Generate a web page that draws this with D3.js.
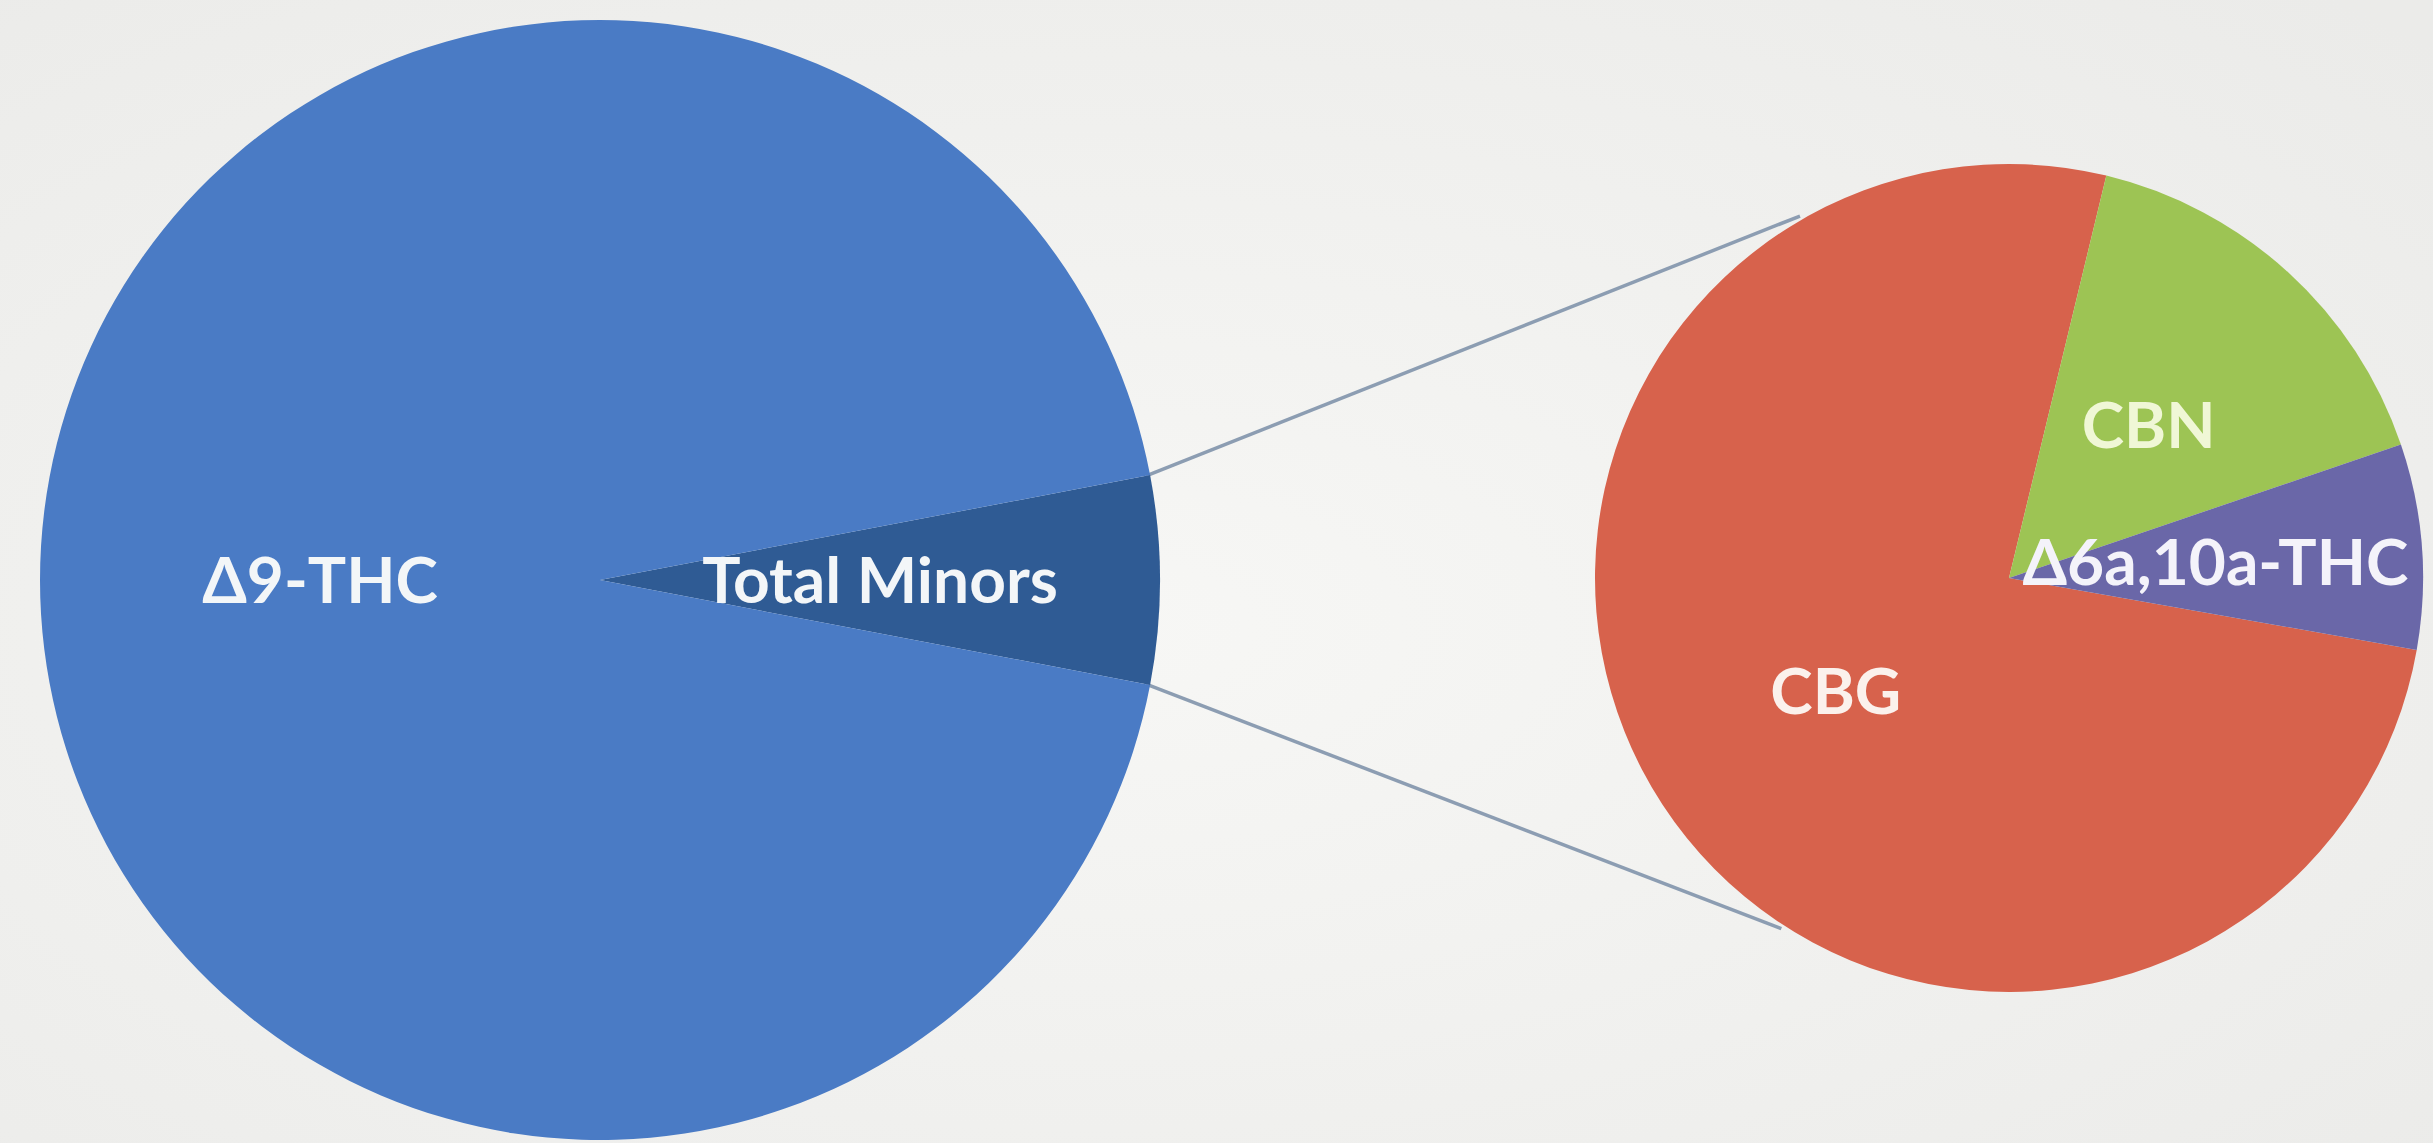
<!DOCTYPE html>
<html lang="en">
<head>
    <meta charset="UTF-8">
    <title>Pie of pie - cannabinoids</title>
    <script src="https://d3js.org/d3.v7.min.js"></script>
    <style>
        html, body { margin: 0; padding: 0; background: #f3f3f1; }
        svg { display: block; }
    </style>
</head>
<body>
<div id="chart"></div>
<script>

const width = 2433;
const height = 1143;

// main pie
const mainLabels = ["Total Minors", "Δ9-THC"];
const mainValues = [6, 94];
const mainColors = ["#2f5b94", "#4a7bc5"];

// secondary pie (breakdown of the minors)
const minorLabels = ["CBG", "CBN", "Δ6a,10a-THC"];
const minorValues = [76, 16, 8];
const minorColors = ["#d7624c", "#9dc454", "#6a67a8"];
const minorTextColors = ["#fbf1ec", "#f0f7d6", "#f4f3fa"];

const deg = Math.PI / 180;

const svg = d3.select("#chart").append("svg")
    .attr("width", width)
    .attr("height", height);

// soft paper background
const defs = svg.append("defs");
const bg = defs.append("radialGradient").attr("id", "paper")
    .attr("cx", "45%").attr("cy", "55%").attr("r", "75%");
bg.append("stop").attr("offset", "0%").attr("stop-color", "#f7f7f5");
bg.append("stop").attr("offset", "100%").attr("stop-color", "#ebebe9");
svg.append("rect").attr("width", width).attr("height", height).attr("fill", "url(#paper)");

const R = 560, mainC = [600, 580];
const r = 414, minorC = [2009, 578];

const mainPie = d3.pie().value(d => d).sort(null)
    .startAngle(90 * deg - (mainValues[0] / 100) * Math.PI)
    .endAngle(90 * deg - (mainValues[0] / 100) * Math.PI + 2 * Math.PI);
const minorPie = d3.pie().value(d => d).sort(null)
    .startAngle(100 * deg)
    .endAngle(100 * deg + 2 * Math.PI);

const mainArcs = mainPie(mainValues);
const minorArcs = minorPie(minorValues);

// connector lines, from the minors wedge edges to the second pie
const pt = (c, rad, a) => [c[0] + rad * Math.sin(a), c[1] - rad * Math.cos(a)];
const wedge = mainArcs[0];
const links = [
    [pt(mainC, R - 4, wedge.startAngle), pt(minorC, r + 4, -30 * deg)],
    [pt(mainC, R - 4, wedge.endAngle), pt(minorC, r + 4, -147 * deg)]
];
svg.selectAll("line.link")
    .data(links)
    .enter().append("line")
    .attr("class", "link")
    .attr("x1", d => d[0][0]).attr("y1", d => d[0][1])
    .attr("x2", d => d[1][0]).attr("y2", d => d[1][1])
    .attr("stroke", "#8c9db2")
    .attr("stroke-width", 3.5);

function drawPie(arcs, center, radius, labels, colors, textColors, labelK) {
    const g = svg.append("g")
        .attr("transform", "translate(" + center[0] + "," + center[1] + ")");
    const arc = d3.arc().innerRadius(0).outerRadius(radius);
    const labelArc = d3.arc().innerRadius(radius * labelK).outerRadius(radius * labelK);

    g.selectAll("path")
        .data(arcs)
        .enter().append("path")
        .attr("d", arc)
        .attr("fill", (d, i) => colors[i]);

    g.selectAll("text")
        .data(arcs)
        .enter().append("text")
        .attr("transform", d => "translate(" + labelArc.centroid(d) + ")")
        .attr("dy", "0.36em")
        .attr("text-anchor", "middle")
        .style("font-family", "Lato, 'Open Sans', sans-serif")
        .style("font-weight", "700")
        .style("font-size", "64px")
        .attr("fill", (d, i) => textColors ? textColors[i] : "#f3f6f8")
        .text((d, i) => labels[i]);
}

drawPie(mainArcs, mainC, R, mainLabels, mainColors, null, 0.5);
drawPie(minorArcs, minorC, r, minorLabels, minorColors, minorTextColors, 0.5);

</script>
</body>
</html>
